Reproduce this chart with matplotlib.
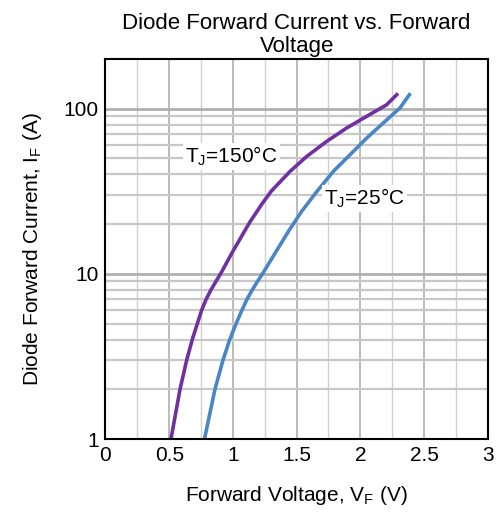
import matplotlib
matplotlib.use("Agg")
import matplotlib.pyplot as plt
from matplotlib.ticker import MultipleLocator, FixedLocator, NullFormatter

plt.rcParams['font.family'] = ['Liberation Sans', 'DejaVu Sans']
plt.rcParams['mathtext.fontset'] = 'custom'
plt.rcParams['mathtext.rm'] = 'Liberation Sans'
plt.rcParams['mathtext.it'] = 'Liberation Sans'

# Data
v_150 = [0.514, 0.585, 0.637, 0.681, 0.721, 0.754, 0.789, 0.828, 0.867, 0.903,
         1.0, 1.13, 1.225, 1.30, 1.448, 1.579, 1.736, 1.893, 2.05, 2.207, 2.286]
i_150 = [1, 2, 3, 4, 5, 6, 7, 8, 9, 10,
         13.7, 20.4, 26.3, 31.6, 41.7, 51.4, 63.4, 76.4, 89.9, 105.7, 121.6]
v_25 = [0.777, 0.859, 0.922, 0.975, 1.025, 1.07, 1.11, 1.152, 1.193, 1.232,
        1.33, 1.44, 1.54, 1.66, 1.788, 1.919, 2.05, 2.18, 2.311, 2.385]
i_25 = [1, 2, 3, 4, 5, 6, 7, 8, 9, 10,
        13.3, 18.3, 23.9, 31.6, 41.7, 52.6, 66.4, 81.9, 101, 121.6]

x_ticks = [0, 0.5, 1, 1.5, 2, 2.5, 3]
x_tick_labels = ['0', '0.5', '1', '1.5', '2', '2.5', '3']
y_ticks = [1, 10, 100]
y_tick_labels = ['1', '10', '100']

label_150 = 'T$_\\mathregular{J}$=150°C'
label_25 = 'T$_\\mathregular{J}$=25°C'

fig = plt.figure(figsize=(4.96, 5.16), dpi=100)
ax = fig.add_axes([0.2127, 0.1492, 0.9833 - 0.2127, 0.8857 - 0.1492])

ax.set_yscale('log')
ax.set_xlim(0, 3)
ax.set_ylim(1, 200)

ax.xaxis.set_major_locator(FixedLocator(x_ticks))
ax.set_xticklabels(x_tick_labels)
ax.xaxis.set_minor_locator(MultipleLocator(0.25))
ax.yaxis.set_major_locator(FixedLocator(y_ticks))
ax.set_yticklabels(y_tick_labels)
ax.yaxis.set_minor_locator(FixedLocator([2, 3, 4, 5, 6, 7, 8, 9, 20, 30, 40, 50, 60, 70, 80, 90]))
ax.yaxis.set_minor_formatter(NullFormatter())

ax.grid(True, which='major', axis='x', color='#a8a8a8', linewidth=1.1)
ax.grid(True, which='minor', axis='x', color='#d0d0d0', linewidth=1.0)
ax.grid(True, which='major', axis='y', color='#b0b0b0', linewidth=2.0)
ax.grid(True, which='minor', axis='y', color='#c8c8c8', linewidth=1.6)
ax.set_axisbelow(True)

ax.tick_params(which='both', length=0)
ax.tick_params(axis='x', pad=5, labelsize=15)
ax.tick_params(axis='y', pad=5, labelsize=15)

for s in ax.spines.values():
    s.set_linewidth(1.5)
    s.set_color('black')

ax.plot(v_150, i_150, color='#7030a0', linewidth=2.6, solid_joinstyle='round')
ax.plot(v_25, i_25, color='#4a86c5', linewidth=2.6, solid_joinstyle='round')

bbox = dict(facecolor='white', edgecolor='none', pad=1.5)
ax.text(0.988, 51.2, label_150, fontsize=15, ha='center', va='center', bbox=bbox)
ax.text(2.035, 28.5, label_25, fontsize=15, ha='center', va='center', bbox=bbox)

ax.set_title('Diode Forward Current vs. Forward\nVoltage', fontsize=16, pad=5,
             linespacing=1.1)
ax.set_xlabel('Forward Voltage, V$_\\mathregular{F}$ (V)', fontsize=15, labelpad=14)
ax.set_ylabel('Diode Forward Current, I$_\\mathregular{F}$ (A)', fontsize=15, labelpad=14)

fig.savefig('out.png', dpi=100)
